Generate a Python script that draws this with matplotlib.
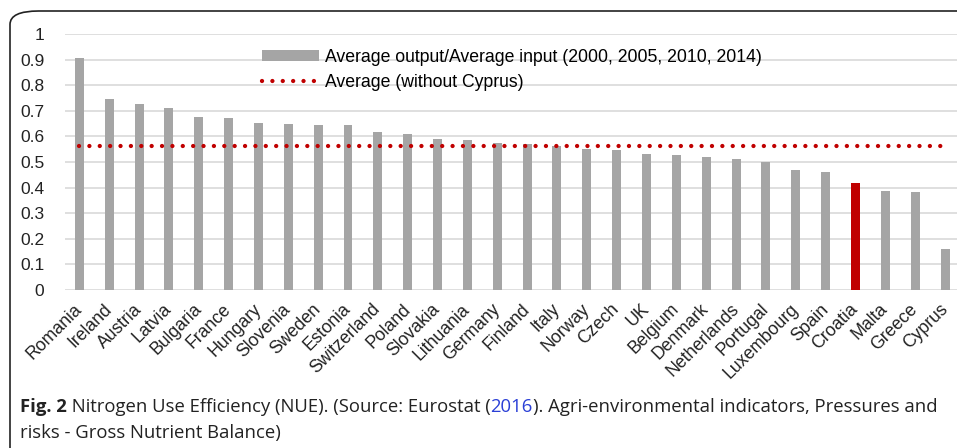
import matplotlib
matplotlib.use("Agg")
import matplotlib.pyplot as plt
from matplotlib.patches import FancyBboxPatch, Patch
from matplotlib.lines import Line2D
import numpy as np

countries = ["Romania", "Ireland", "Austria", "Latvia", "Bulgaria", "France",
             "Hungary", "Slovenia", "Sweden", "Estonia", "Switzerland", "Poland",
             "Slovakia", "Lithuania", "Germany", "Finland", "Italy", "Norway",
             "Czech", "UK", "Belgium", "Denmark", "Netherlands", "Portugal",
             "Luxembourg", "Spain", "Croatia", "Malta", "Greece", "Cyprus"]
nue = [0.905, 0.746, 0.725, 0.711, 0.674, 0.670, 0.651, 0.647, 0.646, 0.643,
       0.616, 0.609, 0.590, 0.587, 0.575, 0.572, 0.562, 0.552, 0.548, 0.531,
       0.526, 0.520, 0.512, 0.499, 0.470, 0.462, 0.418, 0.387, 0.382, 0.160]
average_without_cyprus = 0.564
highlight = "Croatia"

W, H = 957, 448
fig = plt.figure(figsize=(W / 100, H / 100), dpi=100)
plt.rcParams["font.family"] = ["Liberation Sans", "DejaVu Sans"]

# rounded frame, cut off on the right and bottom like the source crop
frame = FancyBboxPatch((10 / W, -0.2), 1.2, 1 - 11 / H + 0.2,
                       boxstyle="round,pad=0,rounding_size=0.03",
                       transform=fig.transFigure, facecolor="none",
                       edgecolor="#222222", linewidth=1.2)
fig.patches.append(frame)

left, right, top, bottom = 65, 957, 34, 290
ax = fig.add_axes([left / W, 1 - bottom / H, (right - left) / W, (bottom - top) / H])

dotted = (0, (0.01, 2.4))
x = np.arange(len(countries))
colors = ["#C00000" if c == highlight else "#A5A5A5" for c in countries]
ax.bar(x, nue, width=0.30, color=colors, zorder=2)
ax.plot([0, len(countries) - 1], [average_without_cyprus] * 2,
        color="#C00000", linestyle=dotted, linewidth=3.1,
        dash_capstyle="round", zorder=3)

ax.set_ylim(0, 1)
ax.set_xlim(-0.48, 29.4)
ax.set_yticks(np.arange(0, 1.01, 0.1))
ax.set_yticklabels(["0", "0.1", "0.2", "0.3", "0.4", "0.5", "0.6", "0.7",
                    "0.8", "0.9", "1"], fontsize=12.5, color="#222222")
ax.set_xticks(x)
ax.set_xticklabels(countries, rotation=45, ha="right", va="center",
                   rotation_mode="anchor", fontsize=12.7, color="#222222")
ax.tick_params(length=0)
ax.tick_params(axis="y", pad=15)
ax.tick_params(axis="x", pad=12)
ax.grid(axis="y", color="#D9D9D9", linewidth=1.2, zorder=0)
ax.set_axisbelow(True)
for s in ax.spines.values():
    s.set_visible(False)

handles = [Patch(facecolor="#A5A5A5", edgecolor="none"),
           Line2D([], [], color="#C00000", linestyle=dotted,
                  linewidth=3.1, dash_capstyle="round")]
labels = ["Average output/Average input (2000, 2005, 2010, 2014)",
          "Average (without Cyprus)"]
ax.legend(handles, labels, loc="upper left",
          bbox_to_anchor=((250 - left) / (right - left), 0.99),
          frameon=False, fontsize=12.7, handlelength=3.2, handleheight=0.55,
          labelspacing=0.45, handletextpad=0.35, borderaxespad=0.3)

# caption with bold prefix and blue year
renderer = fig.canvas.get_renderer()
cap_font = dict(fontsize=13.3, family=["Open Sans", "DejaVu Sans"], color="#222222")


def put_segments(segments, x0, y0):
    xp = x0
    for txt, extra in segments:
        t = fig.text(xp / W, 1 - y0 / H, txt, va="baseline", ha="left",
                     **{**cap_font, **extra})
        xp += t.get_window_extent(renderer).width


put_segments([("Fig. 2", {"fontweight": "bold"}),
              (" Nitrogen Use Efficiency (NUE). (Source: Eurostat (", {}),
              ("2016", {"color": "#2A3FD6"}),
              ("). Agri-environmental indicators, Pressures and", {})], 20, 412)
put_segments([("risks - Gross Nutrient Balance)", {})], 20, 438)

fig.savefig("out.png", dpi=100)
